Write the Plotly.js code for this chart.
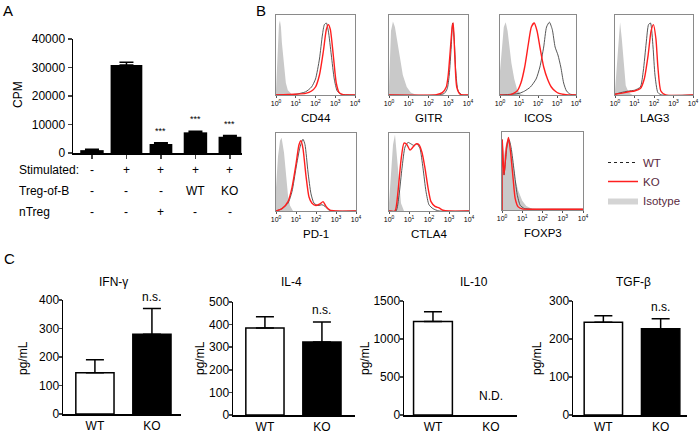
<!DOCTYPE html>
<html>
<head>
<meta charset="utf-8">
<script src="https://cdn.plot.ly/plotly-3.0.1.min.js"></script>
<style>body{margin:0;background:#fff}#fig{width:700px;height:434px}</style>
</head>
<body>
<div id="fig"></div>
<script>
// ---- panel A data
const aCats = [0, 1, 2, 3, 4];
const aCpm = [1000, 30900, 3150, 7250, 5700];
const aErr = [300, 900, 450, 350, 400];
const aSig = ['', '', '***', '***', '***'];
const aRowLabels = ['Stimulated:', 'Treg-of-B', 'nTreg'];
const aStim = ['-', '+', '+', '+', '+'];
const aTregB = ['-', '-', '-', 'WT', 'KO'];
const aNTreg = ['-', '-', '+', '-', '-'];

// ---- panel B data (x = log10 intensity, y = relative count)
const histNames = ['CD44', 'GITR', 'ICOS', 'LAG3', 'PD-1', 'CTLA4', 'FOXP3'];
const histTicks = ['10<sup>0</sup>', '10<sup>1</sup>', '10<sup>2</sup>', '10<sup>3</sup>', '10<sup>4</sup>'];

const cd44Iso = [[0,0.05],[0.05,0.3],[0.1,0.7],[0.15,0.88],[0.2,0.93],[0.25,0.85],[0.3,0.65],[0.4,0.35],[0.5,0.15],[0.6,0.06],[0.7,0.03],[0.8,0.01],[1.0,0]];
const cd44Wt = [[0,0],[1.0,0.01],[1.5,0.04],[1.8,0.1],[2.0,0.2],[2.2,0.45],[2.35,0.75],[2.45,0.88],[2.55,0.9],[2.65,0.8],[2.8,0.5],[2.95,0.2],[3.1,0.05],[3.3,0.01],[4,0]];
const cd44Ko = [[0,0],[1.0,0.01],[1.5,0.02],[1.8,0.05],[2.0,0.1],[2.2,0.25],[2.4,0.55],[2.55,0.82],[2.65,0.88],[2.75,0.82],[2.9,0.5],[3.05,0.15],[3.2,0.03],[3.4,0.005],[4,0]];

const gitrIso = [[0,0.1],[0.05,0.5],[0.1,0.8],[0.2,0.92],[0.3,0.85],[0.4,0.7],[0.55,0.45],[0.7,0.25],[0.9,0.1],[1.1,0.03],[1.3,0.01],[1.5,0]];
const gitrWt = [[0,0],[2.5,0],[2.8,0.02],[2.95,0.08],[3.05,0.25],[3.15,0.6],[3.22,0.9],[3.3,0.7],[3.38,0.3],[3.5,0.05],[3.7,0],[4,0]];
const gitrKo = [[0,0],[2.4,0.005],[2.7,0.03],[2.9,0.1],[3.0,0.25],[3.1,0.55],[3.2,0.85],[3.25,0.9],[3.33,0.5],[3.43,0.1],[3.6,0.01],[4,0]];

const icosIso = [[0,0.3],[0.1,0.6],[0.2,0.85],[0.3,0.91],[0.4,0.8],[0.5,0.6],[0.6,0.4],[0.75,0.2],[0.9,0.07],[1.1,0.01],[1.3,0]];
const icosWt = [[0,0],[1.0,0.02],[1.3,0.05],[1.6,0.1],[1.9,0.2],[2.1,0.35],[2.3,0.6],[2.45,0.85],[2.6,0.91],[2.75,0.82],[2.9,0.6],[3.05,0.5],[3.2,0.35],[3.35,0.15],[3.5,0.05],[3.7,0.01],[4,0]];
const icosKo = [[0,0],[0.5,0],[0.9,0.05],[1.1,0.15],[1.3,0.35],[1.5,0.65],[1.65,0.85],[1.8,0.9],[1.95,0.8],[2.1,0.6],[2.3,0.35],[2.5,0.2],[2.7,0.1],[2.9,0.05],[3.1,0.02],[3.3,0.01],[3.6,0],[4,0]];

const lag3Iso = [[0,0.05],[0.1,0.4],[0.2,0.8],[0.26,0.91],[0.35,0.7],[0.45,0.35],[0.55,0.12],[0.7,0.03],[0.9,0]];
const lag3Wt = [[0,0.01],[0.3,0.03],[0.7,0.05],[1.0,0.06],[1.3,0.1],[1.45,0.3],[1.6,0.65],[1.72,0.88],[1.82,0.9],[1.95,0.6],[2.05,0.25],[2.2,0.03],[2.4,0],[4,0]];
const lag3Ko = [[0,0.01],[0.3,0.02],[0.7,0.04],[1.0,0.05],[1.3,0.08],[1.5,0.2],[1.7,0.5],[1.85,0.8],[1.97,0.88],[2.1,0.7],[2.2,0.35],[2.35,0.05],[2.6,0],[4,0]];

const pd1Iso = [[0,0.3],[0.1,0.7],[0.2,0.9],[0.28,0.94],[0.4,0.75],[0.5,0.45],[0.6,0.2],[0.7,0.07],[0.85,0]];
const pd1Wt = [[0,0],[0.3,0.03],[0.6,0.1],[0.8,0.25],[1.0,0.55],[1.2,0.82],[1.35,0.92],[1.45,0.85],[1.6,0.5],[1.75,0.22],[1.9,0.1],[2.1,0.07],[2.3,0.08],[2.45,0.06],[2.6,0.02],[2.8,0],[4,0]];
const pd1Ko = [[0,0],[0.3,0.03],[0.6,0.12],[0.8,0.3],[1.0,0.6],[1.15,0.85],[1.25,0.9],[1.35,0.8],[1.5,0.45],[1.65,0.18],[1.8,0.1],[2.0,0.07],[2.2,0.09],[2.35,0.12],[2.5,0.06],[2.7,0.01],[3.0,0],[4,0]];

const ctla4Iso = [[0,0.1],[0.1,0.5],[0.2,0.85],[0.3,0.98],[0.4,0.7],[0.5,0.35],[0.6,0.1],[0.75,0]];
const ctla4Wt = [[0,0],[0.35,0],[0.5,0.2],[0.65,0.55],[0.8,0.82],[0.95,0.88],[1.1,0.86],[1.25,0.84],[1.4,0.86],[1.55,0.8],[1.7,0.55],[1.85,0.25],[2.0,0.08],[2.2,0.03],[2.5,0],[4,0]];
const ctla4Ko = [[0,0],[0.3,0],[0.45,0.25],[0.6,0.65],[0.75,0.87],[0.9,0.85],[1.05,0.78],[1.2,0.82],[1.35,0.86],[1.5,0.85],[1.65,0.75],[1.8,0.55],[1.95,0.3],[2.1,0.12],[2.3,0.06],[2.5,0.04],[2.7,0.01],[3.0,0],[4,0]];

const foxp3Iso = [[0,0.4],[0.1,0.7],[0.2,0.85],[0.35,0.92],[0.5,0.7],[0.65,0.4],[0.8,0.25],[1.0,0.12],[1.2,0.05],[1.4,0.02],[1.6,0]];
const foxp3Wt = [[0,0],[0.01,0.9],[0.1,0.45],[0.25,0.82],[0.35,0.9],[0.45,0.8],[0.6,0.5],[0.75,0.2],[0.9,0.06],[1.1,0.02],[1.5,0.01],[2.5,0.01],[4,0.01]];
const foxp3Ko = [[0,0],[0.01,0.9],[0.1,0.45],[0.22,0.8],[0.32,0.93],[0.42,0.75],[0.55,0.4],[0.65,0.15],[0.8,0.04],[1.0,0.015],[1.5,0.01],[2.5,0.01],[4,0.01]];

const isoCurves = [cd44Iso, gitrIso, icosIso, lag3Iso, pd1Iso, ctla4Iso, foxp3Iso];
const wtCurves = [cd44Wt, gitrWt, icosWt, lag3Wt, pd1Wt, ctla4Wt, foxp3Wt];
const koCurves = [cd44Ko, gitrKo, icosKo, lag3Ko, pd1Ko, ctla4Ko, foxp3Ko];

// ---- panel C data
const cCats = ['WT', 'KO'];
const cNames = ['IFN-γ', 'IL-4', 'IL-10', 'TGF-β'];
const ifnVals = [145, 280], ifnErr = [45, 90];
const il4Vals = [385, 323], il4Err = [50, 88];
const il10Vals = [1230, 0], il10Err = [130, 0];
const tgfVals = [244, 227], tgfErr = [17, 26];
const cNotes = ['n.s.', 'n.s.', 'N.D.', 'n.s.'];

// ---- layout helpers (pixel boxes -> paper fractions)
const W = 700, H = 434;
const xd = (a, b) => [a / W, b / W];
const yd = (top, bot) => [1 - bot / H, 1 - top / H];
const FONT = 'Arial, "Liberation Sans", sans-serif';

const data = [];
const layout = {
    width: W, height: H,
    margin: {l: 0, r: 0, t: 0, b: 0},
    paper_bgcolor: '#fff', plot_bgcolor: 'rgba(0,0,0,0)',
    font: {family: FONT, color: '#000', size: 11},
    showlegend: true,
    legend: {x: 603 / W, y: 1 - 148 / H, xanchor: 'left', yanchor: 'top',
             font: {size: 11.5, color: '#5a2a3e'}, bgcolor: 'rgba(0,0,0,0)', tracegroupgap: 0},
    annotations: [],
    shapes: []
};
// paper-anchored text at pixel position (centre anchored unless told otherwise)
function note(text, x, y, opts) {
    layout.annotations.push(Object.assign({text: text, x: x / W, y: 1 - y / H, xref: 'paper', yref: 'paper',
        xanchor: 'center', yanchor: 'middle', showarrow: false, font: {size: 12}}, opts || {}));
}

// panel letters
note('A', 8, 10, {font: {size: 15}});
note('B', 261, 11, {font: {size: 15}});
note('C', 9, 258, {font: {size: 15}});

// ---- panel A
data.push({
    type: 'bar', x: aCats, y: aCpm, xaxis: 'x', yaxis: 'y',
    width: [0.68, 0.92, 0.66, 0.68, 0.66],
    marker: {color: '#000'}, showlegend: false,
    error_y: {type: 'data', symmetric: false, array: aErr, arrayminus: aCats.map(() => 0),
              color: '#000', thickness: 1.5, width: 7}
});
layout.xaxis = {domain: xd(73, 242), range: [-0.55, 4.35], anchor: 'y', showline: true, linecolor: '#000',
    linewidth: 1.5, ticks: 'outside', ticklen: 4, tickwidth: 1.5, tickvals: aCats, showticklabels: false,
    showgrid: false, zeroline: false};
layout.yaxis = {domain: yd(39, 153), range: [0, 40000], anchor: 'x', showline: true, linecolor: '#000',
    linewidth: 1.5, ticks: 'outside', ticklen: 4, tickwidth: 1.5, tickvals: [0, 10000, 20000, 30000, 40000],
    tickformat: 'd', tickfont: {size: 12}, showgrid: false, zeroline: false};
note('CPM', 18, 95, {textangle: -90});
aSig.forEach((s, i) => {
    if (!s) return;
    layout.annotations.push({text: s, x: aCats[i], y: aCpm[i] + aErr[i], xref: 'x', yref: 'y',
        xanchor: 'center', yanchor: 'bottom', yshift: 5, showarrow: false, font: {size: 9}});
});
const rowY = [170, 191, 212];
[aStim, aTregB, aNTreg].forEach((row, r) => {
    note(aRowLabels[r], 17, rowY[r], {xanchor: 'left'});
    row.forEach((v, i) => {
        layout.annotations.push({text: v, x: aCats[i], y: 1 - rowY[r] / H, xref: 'x', yref: 'paper',
            xanchor: 'center', yanchor: 'middle', showarrow: false, font: {size: 12}});
    });
});

// ---- panel B histograms
const histBoxes = [
    [276, 355, 15, 95], [389, 468, 15, 95], [500, 576, 15, 95], [615, 693, 15, 95],
    [276, 356, 133, 211], [389, 469, 133, 211], [502, 583, 132, 210]
];
histNames.forEach((name, i) => {
    const n = i + 2, xa = 'x' + n, ya = 'y' + n;
    const b = histBoxes[i];
    layout['xaxis' + n] = {domain: xd(b[0], b[1]), range: [0, 4], anchor: ya, showline: true, mirror: true,
        linecolor: '#8a8a8a', linewidth: 1, ticks: 'outside', ticklen: 2, tickcolor: '#555',
        tickvals: [0, 1, 2, 3, 4], ticktext: histTicks, tickfont: {size: 7}, showgrid: false, zeroline: false};
    layout['yaxis' + n] = {domain: yd(b[2], b[3]), range: [0, 1], anchor: xa, showline: true, mirror: true,
        linecolor: '#8a8a8a', linewidth: 1, showticklabels: false, ticks: '', showgrid: false, zeroline: false};
    data.push({type: 'scatter', mode: 'lines', xaxis: xa, yaxis: ya, showlegend: false,
        x: isoCurves[i].map(p => p[0]), y: isoCurves[i].map(p => p[1]),
        fill: 'tozeroy', fillcolor: '#c9c9c9', line: {width: 0, color: '#c9c9c9'}});
    data.push({type: 'scatter', mode: 'lines', xaxis: xa, yaxis: ya, showlegend: false,
        x: wtCurves[i].map(p => p[0]), y: wtCurves[i].map(p => p[1]),
        line: {width: 0.9, color: '#444', shape: 'spline', smoothing: 0.6}});
    data.push({type: 'scatter', mode: 'lines', xaxis: xa, yaxis: ya, showlegend: false,
        x: koCurves[i].map(p => p[0]), y: koCurves[i].map(p => p[1]),
        line: {width: 1.4, color: '#ff1f1f', shape: 'spline', smoothing: 0.6}});
    note(name, (b[0] + b[1]) / 2, b[3] + 23, {font: {size: 11.5}});
});
// legend entries
data.push({type: 'scatter', mode: 'lines', x: [null], y: [null], xaxis: 'x2', yaxis: 'y2', name: 'WT',
    line: {color: '#222', width: 1, dash: 'dot'}});
data.push({type: 'scatter', mode: 'lines', x: [null], y: [null], xaxis: 'x2', yaxis: 'y2', name: 'KO',
    line: {color: '#ff1f1f', width: 1.5}});
data.push({type: 'scatter', mode: 'lines', x: [null], y: [null], xaxis: 'x2', yaxis: 'y2', name: 'Isotype',
    fill: 'tozeroy', fillcolor: '#d4d4d4', line: {width: 0, color: '#d4d4d4'}});

// ---- panel C cytokines
const cVals = [ifnVals, il4Vals, il10Vals, tgfVals];
const cErrs = [ifnErr, il4Err, il10Err, tgfErr];
const cMax = [400, 500, 1500, 300];
const cStep = [100, 100, 500, 100];
const cBoxes = [  // axis left, axis right, top, bottom, x-range
    [63, 181, 300, 414, [-0.56, 1.51]],
    [233, 355, 302, 415, [-0.56, 1.58]],
    [404, 517, 301, 415, [-0.5, 1.45]],
    [573, 687, 301, 415, [-0.53, 1.46]]
];
const cTitleX = [113, 291, 474, 633];
const cLabelX = [23, 200, 365, 537];
cNames.forEach((name, i) => {
    const n = i + 9, xa = 'x' + n, ya = 'y' + n;
    const b = cBoxes[i];
    const ticks = [];
    for (let t = 0; t <= cMax[i]; t += cStep[i]) ticks.push(t);
    layout['xaxis' + n] = {domain: xd(b[0], b[1]), range: b[4], anchor: ya, showline: true, linecolor: '#000',
        linewidth: 1.5, ticks: '', tickvals: [0, 1], ticktext: cCats, tickfont: {size: 12},
        showgrid: false, zeroline: false};
    layout['yaxis' + n] = {domain: yd(b[2], b[3]), range: [0, cMax[i]], anchor: xa, showline: true,
        linecolor: '#000', linewidth: 1.5, ticks: 'outside', ticklen: 3, tickwidth: 1.5, tickvals: ticks,
        ticklabelstandoff: -3, tickfont: {size: 12}, showgrid: false, zeroline: false};
    const vals = cVals[i].slice();
    if (cNotes[i] === 'N.D.') vals[1] = null;
    data.push({type: 'bar', x: [0, 1], y: vals, xaxis: xa, yaxis: ya, width: 0.67, showlegend: false,
        marker: {color: ['#fff', '#000'], line: {color: '#000', width: 1.5}},
        error_y: {type: 'data', symmetric: false, array: cErrs[i], arrayminus: [0, 0],
                  color: '#000', thickness: 1.5, width: 9}});
    note(name, cTitleX[i], 282, {font: {size: 12}});
    note('pg/mL', cLabelX[i], 358, {textangle: -90});
    if (cNotes[i] === 'N.D.') {
        layout.annotations.push({text: 'N.D.', x: 1, y: 0, xref: xa, yref: ya, xanchor: 'center',
            yanchor: 'bottom', yshift: 10, showarrow: false, font: {size: 12}});
    } else {
        layout.annotations.push({text: cNotes[i], x: 1, y: cVals[i][1] + cErrs[i][1], xref: xa, yref: ya,
            xanchor: 'center', yanchor: 'bottom', yshift: 3, showarrow: false, font: {size: 12}});
    }
});

Plotly.newPlot('fig', data, layout, {staticPlot: true});
</script>
</body>
</html>
